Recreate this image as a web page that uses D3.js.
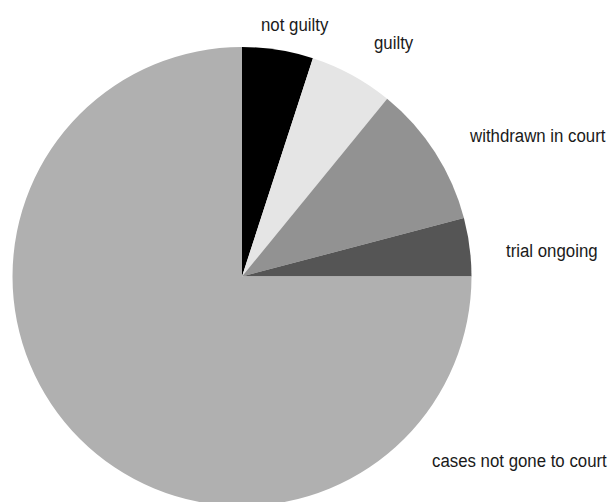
<!DOCTYPE html>
<html>
<head>
<meta charset="utf-8">
<script src="https://cdn.jsdelivr.net/npm/d3@7"></script>
<style>
  html, body { margin: 0; padding: 0; background: #fff; }
  svg { display: block; }
  .lbl { font-family: "Liberation Sans", Arial, sans-serif; font-size: 19px; fill: #1a1a1a; }
</style>
</head>
<body>
<svg id="chart" width="611" height="502"></svg>
<script>
// Outcome of cases (percent of all cases), clockwise from 12 o'clock
const categories = ["not guilty", "guilty", "withdrawn in court", "trial ongoing", "cases not gone to court"];
const shares = [5.0, 5.9, 10.0, 4.1, 75.0];
const fills = ["#000000", "#e5e5e5", "#929292", "#555555", "#b0b0b0"];

// label anchors (left edge, baseline) in page pixels
const labelAnchors = [[261, 31], [374, 49], [470, 142], [506, 257], [432, 467]];
// horizontal squeeze that gives the labels a condensed face
const condense = 0.885;

const svg = d3.select("#chart");
const cx = 242, cy = 276.5, r = 229.5;

const pie = d3.pie().sort(null).value(d => d.v);
const arc = d3.arc().innerRadius(0).outerRadius(r);
const rows = categories.map((c, i) => ({ c, v: shares[i], f: fills[i] }));

svg.append("g")
  .attr("transform", `translate(${cx},${cy})`)
  .selectAll("path")
  .data(pie(rows))
  .join("path")
  .attr("d", arc)
  .attr("fill", d => d.data.f);

svg.append("g")
  .selectAll("text")
  .data(categories)
  .join("text")
  .attr("class", "lbl")
  .attr("transform", (d, i) => `translate(${labelAnchors[i][0]},${labelAnchors[i][1]}) scale(${condense},1)`)
  .text(d => d);
</script>
</body>
</html>
